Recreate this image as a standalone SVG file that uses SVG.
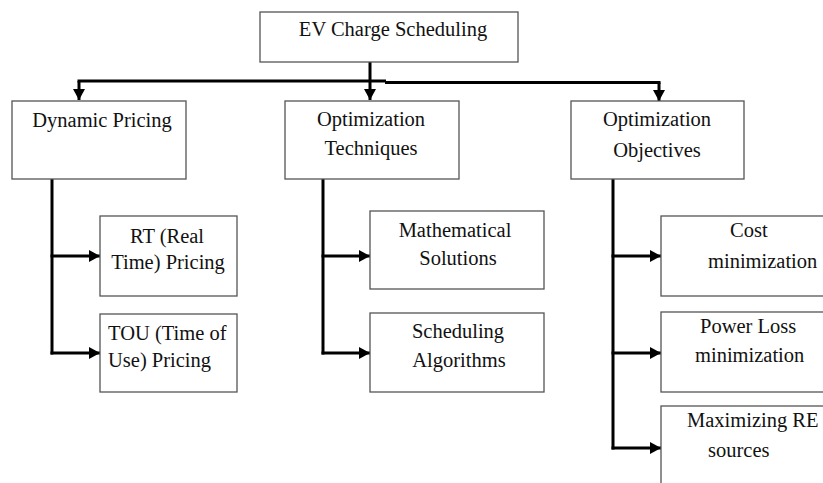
<svg xmlns="http://www.w3.org/2000/svg" width="823" height="483" viewBox="0 0 823 483">
<style>
.box{fill:#fff;stroke:#555;stroke-width:1.3}
.t{font-family:"Liberation Serif","Times New Roman",serif;font-size:20.5px;fill:#111}
.c{text-anchor:middle}
.ln{fill:none;stroke:#000;stroke-width:3}
</style>
<defs>
<marker id="ah" markerUnits="userSpaceOnUse" markerWidth="11" markerHeight="12" refX="11" refY="6" orient="auto">
<path d="M0,0 L11,6 L0,12 z" fill="#000"/>
</marker>
</defs>
<rect width="823" height="483" fill="#fff"/>
<g id="connectors">
<path class="ln" d="M370,62 V100" marker-end="url(#ah)"/>
<path class="ln" d="M77.5,81 H386"/>
<path class="ln" d="M385,82.5 H660.5"/>
<path class="ln" d="M79,81 V100" marker-end="url(#ah)"/>
<path class="ln" d="M659,82.5 V101" marker-end="url(#ah)"/>
<path class="ln" d="M52,179 V354.5"/>
<path class="ln" d="M50.5,256 H100" marker-end="url(#ah)"/>
<path class="ln" d="M50.5,353 H100" marker-end="url(#ah)"/>
<path class="ln" d="M323,179 V354.5"/>
<path class="ln" d="M321.5,256 H370" marker-end="url(#ah)"/>
<path class="ln" d="M321.5,353 H370" marker-end="url(#ah)"/>
<path class="ln" d="M613,179 V449.5"/>
<path class="ln" d="M611.5,256 H661" marker-end="url(#ah)"/>
<path class="ln" d="M611.5,353 H661" marker-end="url(#ah)"/>
<path class="ln" d="M611.5,448 H661" marker-end="url(#ah)"/>
</g>
<g id="root">
<rect class="box" x="260" y="12" width="258" height="50"/>
<text class="t c" x="393" y="36">EV Charge Scheduling</text>
</g>
<g id="dynamic-pricing">
<rect class="box" x="12" y="101" width="174" height="78"/>
<text class="t c" x="102" y="127">Dynamic Pricing</text>
</g>
<g id="optimization-techniques">
<rect class="box" x="285" y="101" width="174" height="78"/>
<text class="t c" x="371" y="126">Optimization</text>
<text class="t c" x="371" y="155">Techniques</text>
</g>
<g id="optimization-objectives">
<rect class="box" x="571" y="101" width="173" height="78"/>
<text class="t c" x="657" y="126">Optimization</text>
<text class="t c" x="657" y="157">Objectives</text>
</g>
<g id="rt-pricing">
<rect class="box" x="100" y="216" width="137" height="80"/>
<text class="t c" x="167" y="243">RT (Real</text>
<text class="t c" x="168" y="269">Time) Pricing</text>
</g>
<g id="tou-pricing">
<rect class="box" x="100" y="314" width="137" height="78"/>
<text class="t" x="108" y="340">TOU (Time of</text>
<text class="t" x="108" y="367">Use) Pricing</text>
</g>
<g id="mathematical-solutions">
<rect class="box" x="370" y="211" width="174" height="78"/>
<text class="t c" x="455" y="237">Mathematical</text>
<text class="t c" x="458" y="265">Solutions</text>
</g>
<g id="scheduling-algorithms">
<rect class="box" x="370" y="313" width="174" height="79"/>
<text class="t c" x="458" y="338">Scheduling</text>
<text class="t c" x="459" y="367">Algorithms</text>
</g>
<g id="cost-minimization">
<rect class="box" x="661" y="216" width="175" height="80"/>
<text class="t" x="730" y="237">Cost</text>
<text class="t" x="708" y="268">minimization</text>
</g>
<g id="power-loss-minimization">
<rect class="box" x="661" y="312" width="175" height="80"/>
<text class="t" x="700" y="333">Power Loss</text>
<text class="t" x="695" y="362">minimization</text>
</g>
<g id="maximizing-re-sources">
<rect class="box" x="661" y="406" width="175" height="90"/>
<text class="t" x="687" y="427">Maximizing RE</text>
<text class="t" x="708" y="457">sources</text>
</g>
</svg>
